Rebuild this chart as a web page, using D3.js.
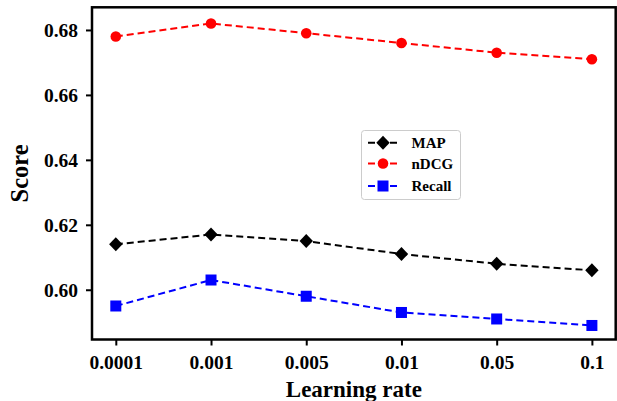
<!DOCTYPE html>
<html><head><meta charset="utf-8">
<script src="https://cdn.jsdelivr.net/npm/d3@7"></script>
<style>body{margin:0;background:#fff}</style>
</head><body>
<svg id="c" width="617" height="401"></svg>
<script>
const categories = ["0.0001","0.001","0.005","0.01","0.05","0.1"];
const mapValues = [0.614,0.617,0.615,0.611,0.608,0.606];
const ndcgValues = [0.678,0.682,0.679,0.676,0.673,0.671];
const recallValues = [0.595,0.603,0.598,0.593,0.591,0.589];
const yTicks = [0.60,0.62,0.64,0.66,0.68];
const series = [
  {name:"MAP", values:mapValues, color:"#000000", marker:"diamond"},
  {name:"nDCG", values:ndcgValues, color:"#ff0000", marker:"circle"},
  {name:"Recall", values:recallValues, color:"#0000ff", marker:"square"}
];
const svg = d3.select("#c");
const L=92, R=615.7, T=7.3, B=339.5;
const x = d3.scalePoint().domain(categories).range([L,R]).padding(0.25);
const y = d3.scaleLinear().domain([0.58468,0.68698]).range([B,T]);
const font = "Liberation Serif, Times New Roman, serif";

function marker(g, type, color){
  if(type==="circle") g.append("circle").attr("r",5.3).attr("fill",color);
  else if(type==="square") g.append("rect").attr("x",-5.5).attr("y",-5.5).attr("width",11).attr("height",11).attr("fill",color);
  else g.append("path").attr("d","M0,-7L6.7,0L0,7L-6.7,0Z").attr("fill",color);
}

series.forEach(s=>{
  svg.append("path").datum(s.values)
    .attr("d", d3.line().x((d,i)=>x(categories[i])).y(d=>y(d)))
    .attr("fill","none").attr("stroke",s.color).attr("stroke-width",2)
    .attr("stroke-dasharray","7,4");
  s.values.forEach((v,i)=>{
    const g = svg.append("g").attr("transform",`translate(${x(categories[i])},${y(v)})`);
    marker(g, s.marker, s.color);
  });
});

// frame
svg.append("rect").attr("x",L).attr("y",T).attr("width",R-L).attr("height",B-T)
  .attr("fill","none").attr("stroke","#000").attr("stroke-width",2.5);

const xAxis = svg.append("g").attr("transform",`translate(0,${B})`)
  .call(d3.axisBottom(x).tickSize(6).tickPadding(10));
const yAxis = svg.append("g").attr("transform",`translate(${L},0)`)
  .call(d3.axisLeft(y).tickValues(yTicks).tickFormat(d3.format(".2f")).tickSize(6).tickPadding(8));
[xAxis,yAxis].forEach(a=>{
  a.attr("font-family",font).attr("font-size",19.5).attr("font-weight","bold");
  a.select(".domain").remove();
  a.selectAll("line").attr("stroke","#000").attr("stroke-width",2);
  a.selectAll("text").style("font-family",font).style("font-weight","bold").style("font-size","19.5px").attr("fill","#000");
});

svg.append("text").attr("x",(L+R)/2).attr("y",397).attr("text-anchor","middle")
  .style("font-family",font).style("font-weight","bold").style("font-size","23px").text("Learning rate");
svg.append("text").attr("transform",`translate(28,${(T+B)/2}) rotate(-90)`).attr("text-anchor","middle")
  .style("font-family",font).style("font-weight","bold").style("font-size","24.5px").text("Score");

// legend
const lg = svg.append("g");
lg.append("rect").attr("x",361.5).attr("y",130.5).attr("width",99).attr("height",69).attr("rx",3)
  .attr("fill","#fff").attr("stroke","#ccc").attr("stroke-width",1);
const ly=[142.7,163.5,186];
series.forEach((s,i)=>{
  lg.append("line").attr("x1",368).attr("x2",398).attr("y1",ly[i]).attr("y2",ly[i])
    .attr("stroke",s.color).attr("stroke-width",2).attr("stroke-dasharray","7,4");
  const g = lg.append("g").attr("transform",`translate(383,${ly[i]})`);
  marker(g, s.marker, s.color);
  lg.append("text").attr("x",411.5).attr("y",ly[i]+5).style("font-family",font).style("font-weight","bold")
    .style("font-size","15px").text(s.name);
});
</script>
</body></html>
